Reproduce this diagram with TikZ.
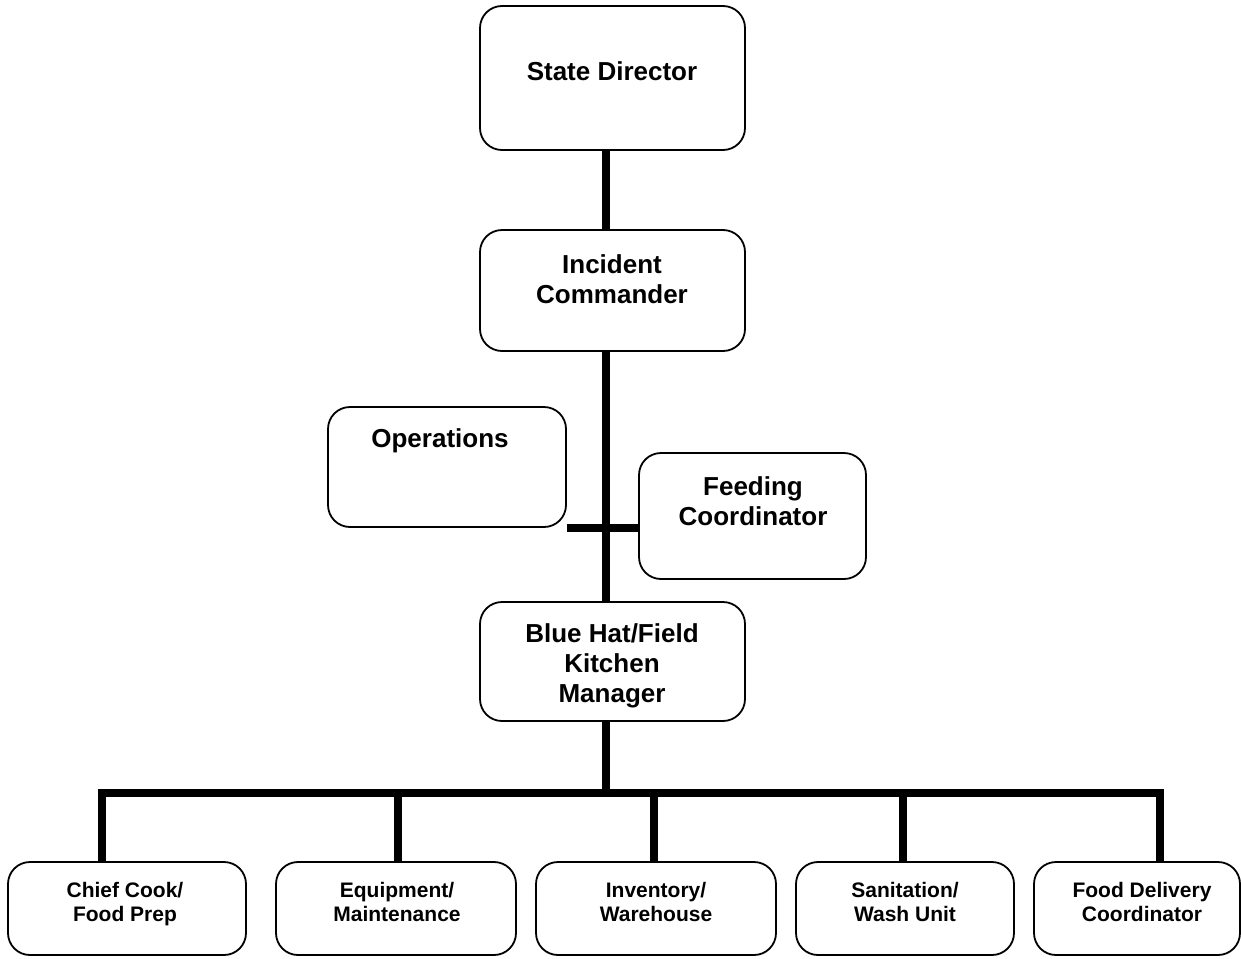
\documentclass[tikz,border=0pt]{standalone}
\usepackage{fontspec}
\setmainfont{Liberation Sans}
\begin{document}
\begin{tikzpicture}[x=1pt,y=-1pt,
  box/.style={draw=black,line width=1.8pt,rounded corners=22pt,minimum width=#1,inner sep=0pt},
  big/.style={font=\fontsize{26}{30}\selectfont\bfseries,align=center,inner sep=0pt},
  small/.style={font=\fontsize{21}{24.5}\selectfont\bfseries,align=center,inner sep=0pt},
  conn/.style={line width=8pt}]
\useasboundingbox (0,0) rectangle (1241,958);
% boxes
\node[box=265pt,minimum height=144pt] (sd) at (612.5,78) {};
\node[box=265pt,minimum height=121pt] (ic) at (612.5,290.5) {};
\node[box=238pt,minimum height=120pt] (op) at (447,467) {};
\node[box=227pt,minimum height=126pt] (fc) at (752.5,516) {};
\node[box=265pt,minimum height=119pt] (bh) at (612.5,661.5) {};
\node[box=238pt,minimum height=93pt] (cc) at (127,908.5) {};
\node[box=240pt,minimum height=93pt] (eq) at (396,908.5) {};
\node[box=240pt,minimum height=93pt] (iv) at (656,908.5) {};
\node[box=218pt,minimum height=93pt] (sn) at (905,908.5) {};
\node[box=206pt,minimum height=93pt] (fd) at (1137,908.5) {};
% texts
\node[big] (sdt) at (612,71) {State Director};
\node[big] (ict) at (612,279) {Incident\\Commander};
\node[big] (opt) at (440,441) {Operations};
\node[big] (fct) at (753,501) {Feeding\\Coordinator};
\node[big] (bht) at (612,666) {Blue Hat/Field\\Kitchen\\Manager};
\node[small] (cct) at (125,904) {Chief Cook/\\Food Prep};
\node[small] (eqt) at (397,902) {Equipment/\\Maintenance};
\node[small] (ivt) at (656,902) {Inventory/\\Warehouse};
\node[small] (snt) at (905,902) {Sanitation/\\Wash Unit};
\node[small] (fdt) at (1142,902) {Food Delivery\\Coordinator};
% connectors
\coordinate (spine) at (606,0);
\draw[conn] (spine |- sd.south) -- (spine |- ic.north);
\draw[conn] (spine |- ic.south) -- (spine |- bh.north);
\draw[conn] (op.south east) -- (op.south east -| fc.west);
\coordinate (d1) at (102,793);
\coordinate (d2) at (398,793);
\coordinate (d3) at (654,793);
\coordinate (d4) at (903,793);
\coordinate (d5) at (1160,793);
\draw[conn] (spine |- bh.south) -- (spine |- d1);
\draw[conn,line join=miter] (d1 |- cc.north) -- (d1) -- (d5) -- (d5 |- fd.north);
\draw[conn] (d2) -- (d2 |- eq.north);
\draw[conn] (d3) -- (d3 |- iv.north);
\draw[conn] (d4) -- (d4 |- sn.north);
\end{tikzpicture}
\end{document}
